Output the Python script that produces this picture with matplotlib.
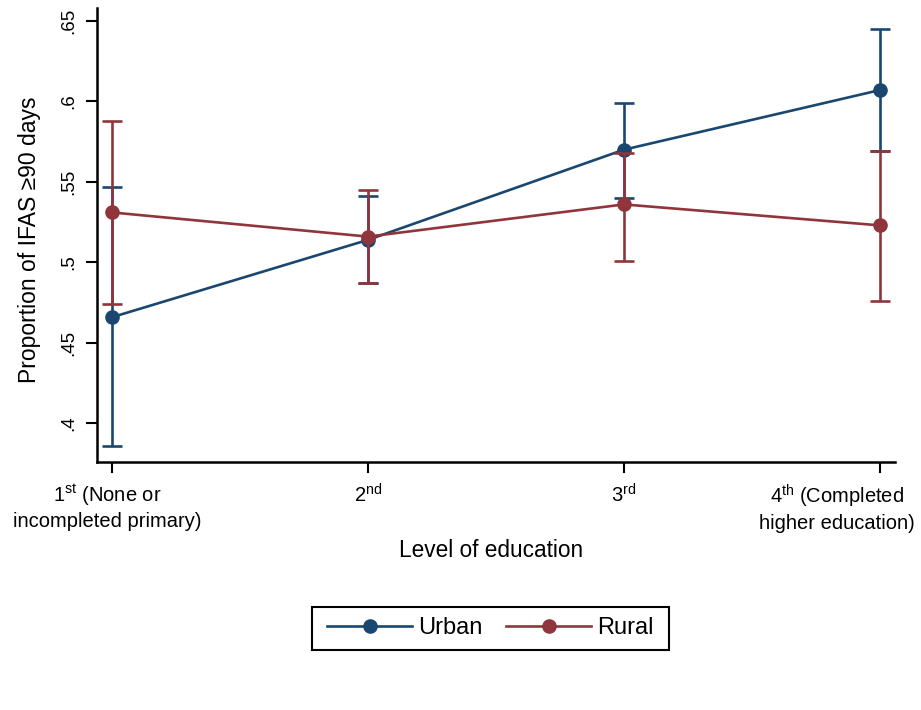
import matplotlib.pyplot as plt
import matplotlib.transforms as mtransforms
from matplotlib.patches import Rectangle
import numpy as np

plt.rcParams["font.family"] = ["Liberation Sans", "DejaVu Sans"]
plt.rcParams["mathtext.fontset"] = "custom"
plt.rcParams["mathtext.rm"] = "Liberation Sans"
plt.rcParams["mathtext.it"] = "Liberation Sans"

# Data
levels = [1, 2, 3, 4]
levelLabels = [
    "1$^{\\mathrm{st}}$ (None or\nincompleted primary)",
    "2$^{\\mathrm{nd}}$",
    "3$^{\\mathrm{rd}}$",
    "4$^{\\mathrm{th}}$ (Completed\nhigher education)",
]
urbanMean = [0.466, 0.514, 0.570, 0.607]
urbanLow = [0.386, 0.487, 0.540, 0.569]
urbanHigh = [0.547, 0.541, 0.599, 0.645]
ruralMean = [0.531, 0.516, 0.536, 0.523]
ruralLow = [0.474, 0.487, 0.501, 0.476]
ruralHigh = [0.588, 0.545, 0.568, 0.569]

navy = "#1a476f"
maroon = "#90353b"

fig = plt.figure(figsize=(9.21, 7.10), dpi=100)
ax = fig.add_axes([0.1053, 0.3493, 0.8665, 0.6394])

for mean, low, high, color, name in [
    (urbanMean, urbanLow, urbanHigh, navy, "Urban"),
    (ruralMean, ruralLow, ruralHigh, maroon, "Rural"),
]:
    mean = np.array(mean)
    yerr = [mean - np.array(low), np.array(high) - mean]
    ax.errorbar(levels, mean, yerr=yerr, fmt="none", ecolor=color,
                elinewidth=1.9, capsize=7, capthick=1.9)
    ax.plot(levels, mean, "-o", color=color, linewidth=1.9,
            markersize=9.5, label=name)

ax.set_xlim(0.94, 4.06)
ax.set_ylim(0.376, 0.658)

ax.spines["top"].set_visible(False)
ax.spines["right"].set_visible(False)
ax.spines["left"].set_linewidth(1.8)
ax.spines["bottom"].set_linewidth(1.8)

ax.set_yticks([0.4, 0.45, 0.5, 0.55, 0.6, 0.65])
ax.set_yticklabels([".4", ".45", ".5", ".55", ".6", ".65"], rotation=90,
                   va="center", fontsize=13.5)
ax.set_xticks(levels)
ax.set_xticklabels(levelLabels, linespacing=1.25, fontsize=14.5)
ax.tick_params(axis="both", length=8, width=1.5, colors="black")
ax.tick_params(axis="y", pad=6)
ax.tick_params(axis="x", pad=7)

# shift the outer tick labels like the original (last one kept inside)
xLabels = ax.get_xticklabels()
for lab, dx in [(xLabels[0], -5), (xLabels[-1], -43)]:
    offset = mtransforms.ScaledTranslation(dx / 100, 0, fig.dpi_scale_trans)
    lab.set_transform(lab.get_transform() + offset)

ax.set_ylabel("Proportion of IFAS \u226590 days", fontsize=16.5, va="center")
ax.yaxis.set_label_coords(-0.084, 0.489)
ax.set_xlabel("Level of education", fontsize=16.3, va="center")
ax.xaxis.set_label_coords(0.4935, -0.196)

# legend below the plot, with a square black box
figW, figH = 921, 710
leg = fig.legend(loc="center", bbox_to_anchor=(490.5 / figW, 1 - 628.5 / figH),
                 ncol=2, frameon=False, fontsize=17, handlelength=3.6,
                 handletextpad=0.25, columnspacing=1.0)
fig.patches.append(Rectangle((312 / figW, 1 - 650 / figH), 357 / figW, 43 / figH,
                             transform=fig.transFigure, fill=False,
                             edgecolor="black", linewidth=1.5))

fig.savefig("out.png", dpi=100)
